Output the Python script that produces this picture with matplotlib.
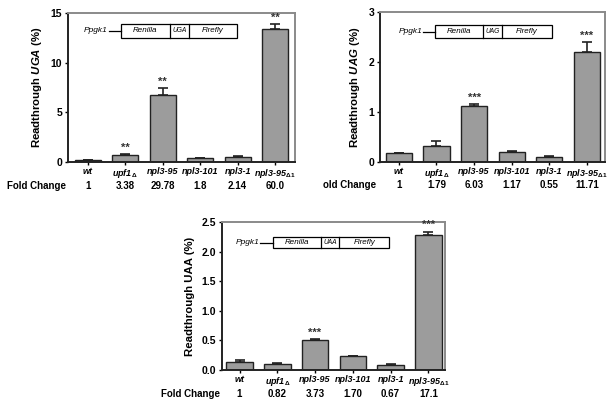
import numpy as np
import matplotlib.pyplot as plt
from matplotlib.patches import Rectangle
from matplotlib.transforms import blended_transform_factory

plt.rcParams.update({'font.family': 'Liberation Sans', 'font.weight': 'bold',
                     'mathtext.fontset': 'custom', 'mathtext.rm': 'Liberation Sans',
                     'mathtext.it': 'Liberation Sans:italic:bold',
                     'mathtext.bf': 'Liberation Sans:bold'})

# strains (x tick labels)
strains = ['wt', r'upf1$_{\it{\Delta}}$', 'npl3-95', 'npl3-101', 'npl3-1',
           r'npl3-95$_{\it{\Delta1}}$']

# UGA panel
uga_vals = [0.2, 0.72, 6.7, 0.4, 0.5, 13.4]
uga_err = [0.05, 0.1, 0.75, 0.03, 0.08, 0.45]
uga_stars = ['', '**', '**', '', '', '**']
uga_fold = ['1', '3.38', '29.78', '1.8', '2.14', '60.0']

# UAG panel
uag_vals = [0.19, 0.33, 1.13, 0.21, 0.1, 2.2]
uag_err = [0.0, 0.1, 0.03, 0.02, 0.02, 0.2]
uag_stars = ['', '', '***', '', '', '***']
uag_fold = ['1', '1.79', '6.03', '1.17', '0.55', '11.71']

# UAA panel
uaa_vals = [0.13, 0.11, 0.5, 0.23, 0.09, 2.29]
uaa_err = [0.04, 0.01, 0.02, 0.0, 0.02, 0.05]
uaa_stars = ['', '', '***', '', '', '***']
uaa_fold = ['1', '0.82', '3.73', '1.70', '0.67', '17.1']

fig = plt.figure(figsize=(6.16, 4.04), dpi=100)


def panel(rect, vals, err, stars, fold, ymax, yticks, ylabel, xlim,
          codon, box, fold_text, fold_x, fold_y, tickfmt):
    ax = fig.add_axes(rect)
    x = np.arange(len(vals))
    ax.bar(x, vals, width=0.7, color='#9c9c9c', edgecolor='#222222', linewidth=1.0,
           yerr=[np.zeros(len(err)), err], capsize=3.5,
           error_kw={'elinewidth': 1.2, 'capthick': 1.2, 'ecolor': '#222222'})
    for xi, v, e, s in zip(x, vals, err, stars):
        if s:
            ax.text(xi, v + e + ymax * 0.01, s, ha='center', va='bottom',
                    fontsize=8, fontweight='bold', color='#333333')
    ax.set_xlim(*xlim)
    ax.set_ylim(0, ymax)
    ax.set_yticks(yticks)
    ax.set_yticklabels([tickfmt % t for t in yticks], fontsize=7.5)
    ax.set_xticks(x)
    ax.set_xticklabels(strains, fontsize=6.5, fontstyle='italic')
    ax.tick_params(axis='both', length=2.5, width=1, pad=1.5)
    ax.tick_params(axis='x', pad=1)
    ax.set_ylabel(ylabel, fontsize=8.2, fontweight='bold', labelpad=5)
    for side in ['left', 'bottom']:
        ax.spines[side].set_linewidth(1.4)
        ax.spines[side].set_color('#222222')
    for side in ['top', 'right']:
        ax.spines[side].set_linewidth(1.4)
        ax.spines[side].set_color('#8a8a8a')

    # fold change row
    tr = blended_transform_factory(ax.transData, ax.transAxes)
    ax.text(fold_x, fold_y, fold_text, transform=tr, ha='center', va='center',
            fontsize=7, fontweight='bold')
    for xi, f in zip(x, fold):
        ax.text(xi, fold_y, f, transform=tr, ha='center', va='center',
                fontsize=7, fontweight='bold')

    # construct diagram inset
    tx, l0, b0, d1, d2, b1, yb, yt = box
    ym = (yb + yt) / 2
    ax.text(tx, ym, 'Ppgk1', transform=ax.transAxes, ha='right',
            va='center', fontsize=6, fontstyle='italic', fontweight='normal')
    ax.plot([l0, b0], [ym, ym], transform=ax.transAxes, color='k', lw=0.9)
    ax.add_patch(Rectangle((b0, yb), b1 - b0, yt - yb, transform=ax.transAxes,
                           fill=False, edgecolor='k', lw=0.9))
    for d in [d1, d2]:
        ax.plot([d, d], [yb, yt], transform=ax.transAxes, color='k', lw=0.9)
    ax.text((b0 + d1) / 2, ym, 'Renilla', transform=ax.transAxes, ha='center',
            va='center', fontsize=5.8, fontstyle='italic', fontweight='normal')
    ax.text((d1 + d2) / 2, ym, codon, transform=ax.transAxes, ha='center',
            va='center', fontsize=4.8, fontstyle='italic', fontweight='normal')
    ax.text((d2 + b1) / 2, ym, 'Firefly', transform=ax.transAxes, ha='center',
            va='center', fontsize=5.8, fontstyle='italic', fontweight='normal')
    return ax


panel([0.110, 0.599, 0.369, 0.369], uga_vals, uga_err, uga_stars, uga_fold,
      15, [0, 5, 10, 15], r'Readthrough $\it{UGA}$ (%)', (-0.53, 5.53), 'UGA',
      (0.176, 0.181, 0.233, 0.449, 0.533, 0.744, 0.832, 0.926),
      'Fold Change', -1.36, -0.16, '%d')

panel([0.617, 0.599, 0.365, 0.371], uag_vals, uag_err, uag_stars, uag_fold,
      3, [0, 1, 2, 3], r'Readthrough $\it{UAG}$ (%)', (-0.5, 5.48), 'UAG',
      (0.187, 0.19, 0.244, 0.458, 0.542, 0.764, 0.827, 0.913),
      'old Change', -1.3, -0.155, '%d')

panel([0.360, 0.084, 0.363, 0.366], uaa_vals, uaa_err, uaa_stars, uaa_fold,
      2.5, [0, 0.5, 1.0, 1.5, 2.0, 2.5], 'Readthrough UAA (%)', (-0.47, 5.45), 'UAA',
      (0.17, 0.172, 0.229, 0.444, 0.525, 0.749, 0.824, 0.899),
      'Fold Change', -1.3, -0.165, '%.1f')

fig.savefig('out.png', dpi=100)
